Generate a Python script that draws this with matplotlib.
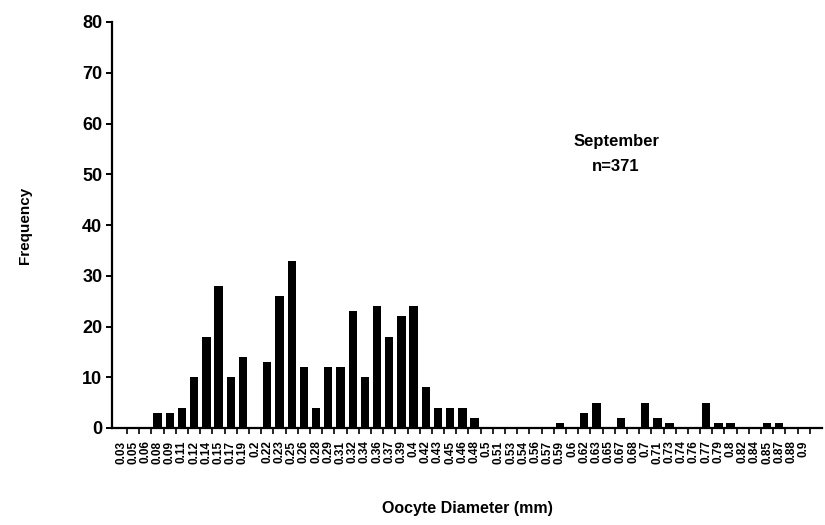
import numpy as np
import matplotlib
matplotlib.use("Agg")
import matplotlib.pyplot as plt

# oocyte diameter classes (mm) and counts per class
diameters = ["0.03", "0.05", "0.06", "0.08", "0.09", "0.11", "0.12", "0.14", "0.15", "0.17",
             "0.19", "0.2", "0.22", "0.23", "0.25", "0.26", "0.28", "0.29", "0.31", "0.32",
             "0.34", "0.36", "0.37", "0.39", "0.4", "0.42", "0.43", "0.45", "0.46", "0.48",
             "0.5", "0.51", "0.53", "0.54", "0.56", "0.57", "0.59", "0.6", "0.62", "0.63",
             "0.65", "0.67", "0.68", "0.7", "0.71", "0.73", "0.74", "0.76", "0.77", "0.79",
             "0.8", "0.82", "0.84", "0.85", "0.87", "0.88", "0.9"]
frequency = [0, 0, 0, 3, 3, 4, 10, 18, 28, 10,
             14, 0, 13, 26, 33, 12, 4, 12, 12, 23,
             10, 24, 18, 22, 24, 8, 4, 4, 4, 2,
             0, 0, 0, 0, 0, 0, 1, 0, 3, 5,
             0, 2, 0, 5, 2, 1, 0, 0, 5, 1,
             1, 0, 0, 1, 1, 0, 0]

month = "September"
n_total = 371

plt.rcParams["font.family"] = ["Liberation Sans", "DejaVu Sans"]
plt.rcParams["font.weight"] = "bold"

fig = plt.figure(figsize=(8.25, 5.25), dpi=100)
ax = fig.add_axes([112 / 825, 97 / 525, 710 / 825, 406 / 525])

x = np.arange(len(diameters))
ax.bar(x, frequency, width=0.68, color="black")

ax.set_xlim(-0.74, len(diameters) + 0.5)
ax.set_ylim(0, 80)

for side in ("top", "right"):
    ax.spines[side].set_visible(False)
for side in ("left", "bottom"):
    ax.spines[side].set_linewidth(1.6)

ax.set_yticks(np.arange(0, 81, 10))
ax.tick_params(axis="y", direction="out", length=4, width=1.4, pad=3, labelsize=13)

ax.set_xticks(x)
ax.set_xticklabels(diameters, rotation=90, fontsize=8.5, fontweight="bold")
ax.set_xticks(x + 0.5, minor=True)
ax.tick_params(axis="x", which="major", length=0, pad=9)
ax.tick_params(axis="x", which="minor", direction="out", length=4, width=1.2)

ax.set_ylabel("Frequency", fontsize=11, fontweight="bold", labelpad=36)
ax.set_xlabel("Oocyte Diameter (mm)", fontsize=11.5, fontweight="bold", labelpad=27)

ax.text(0.71, 0.675, f"{month}\nn={n_total}", transform=ax.transAxes,
        ha="center", va="center", fontsize=12, fontweight="bold", linespacing=1.9)

fig.savefig("out.png", dpi=100, facecolor="white")
